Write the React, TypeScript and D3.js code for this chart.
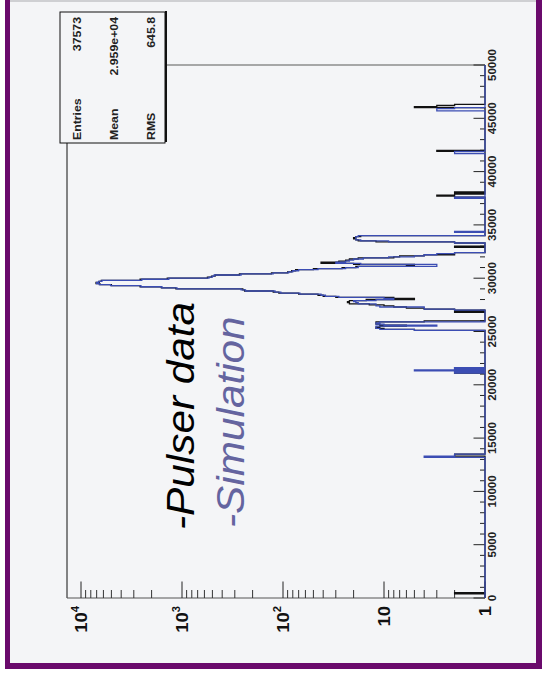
import React from 'react';
import * as d3 from 'd3';

// Histogram binning along the signal axis
const xDomain: [number, number] = [0, 50000];
const binWidth = 100;
// Log count axis: lower edge at 1, upper edge a little above 10^4
const countDomain: [number, number] = [1, 13760];

// Pulser data: lower bin edge -> entries
const pulserBins = [
  400, 13300, 13400, 21100, 21300, 21500,
  25100, 25200, 25300, 25400, 25500, 25600, 25700, 25800, 25900,
  26800, 27000, 27100, 27200, 27300, 27400, 27500, 27600, 27700, 27800, 27900,
  28000, 28100, 28200, 28300, 28400, 28500, 28600, 28700, 28800, 28900,
  29000, 29100, 29200, 29300, 29400, 29500, 29600, 29700, 29800, 29900,
  30000, 30100, 30200, 30300, 30400, 30500, 30600, 30700, 30800, 30900,
  31000, 31100, 31200, 31300, 31400, 31500, 31600, 31700, 31800, 31900,
  32000, 32100, 32200, 32300, 32900, 33300, 33400, 33500, 33600, 33700, 33800, 33900,
  37600, 37700, 37800, 38000, 41900, 46000, 46100, 46200,
];
const pulserCounts = [
  2, 2, 2, 2, 2, 2,
  5, 10, 12, 11, 6, 11, 12, 12, 4,
  2, 2, 4, 6, 8, 10, 14, 22, 23, 22, 15,
  5, 8, 30, 40, 45, 70, 110, 125, 240, 250,
  1150, 1600, 2600, 5000, 6500, 7100, 6600, 6300, 2600, 1400,
  560, 510, 470, 270, 130, 90, 82, 75, 50, 26,
  19, 6, 5, 20, 42, 28, 24, 22, 18, 8,
  7, 4, 2, 2, 2, 2, 12, 18, 19, 20, 19, 17,
  2, 3, 2, 2, 3, 5, 3, 2,
];

// Simulation: lower bin edge -> entries
const simBins = [
  13200, 13300, 13400, 21100, 21300, 21500,
  25100, 25200, 25300, 25400, 25500, 25600, 25700, 25800,
  26900, 27000, 27100, 27200, 27300, 27400, 27500, 27600, 27700, 27800, 27900,
  28000, 28100, 28200, 28300, 28400, 28500, 28600, 28700, 28800, 28900,
  29000, 29100, 29200, 29300, 29400, 29500, 29600, 29700, 29800, 29900,
  30000, 30100, 30200, 30300, 30400, 30500, 30600, 30700, 30800, 30900,
  31000, 31100, 31200, 31300, 31400, 31500, 31600, 31700, 31800, 31900,
  32000, 32100, 32200, 32300, 33300, 33400, 33500, 33600, 33700, 33800, 33900,
  34300, 37500, 41700, 41800, 45700, 45800, 45900,
];
const simCounts = [
  4, 2, 2, 2, 5, 2,
  5, 11, 12, 12, 3, 10, 12, 11,
  1, 2, 4, 4, 11, 12, 12, 18, 19, 20, 12,
  8, 10, 28, 38, 42, 68, 105, 120, 235, 260,
  1120, 1580, 2550, 5100, 6600, 7000, 6700, 6200, 2500, 1350,
  540, 500, 480, 260, 125, 88, 80, 70, 45, 24,
  18, 3, 3, 17, 30, 24, 22, 20, 16, 9,
  5, 4, 3, 2, 2, 9, 17, 19, 19, 19, 18,
  2, 2, 2, 2, 3, 3, 2,
];

const xTickLabels = ['0', '5000', '10000', '15000', '20000', '25000', '30000', '35000', '40000', '45000', '50000'];
const yTickValues = [1, 10, 100, 1000, 10000];

const statsLabels = ['Entries', 'Mean', 'RMS'];
const statsValues = ['37573', '2.959e+04', '645.8'];

const legendTexts = ['-Pulser data', '-Simulation'];

const FONT = '"Liberation Sans", Arial, Helvetica, sans-serif';

export default function App() {
  const W = 542;
  const H = 685;
  // frame in unrotated coordinates
  const plotW = 533;
  const plotH = 418;
  const originX = 67;
  const originY = 598;
  const stretch = 1.12;

  const x = d3.scaleLinear().domain(xDomain).range([0, plotW]);
  const y = d3.scaleLog().domain(countDomain).range([plotH, 0]);
  const nBins = Math.round((xDomain[1] - xDomain[0]) / binWidth);

  const toBins = (bins: number[], counts: number[]) => {
    const arr = new Array(nBins).fill(0);
    bins.forEach((b, i) => {
      arr[Math.round((b - xDomain[0]) / binWidth)] = counts[i];
    });
    return arr;
  };

  const stepPath = (arr: number[]) => {
    const pts: [number, number][] = arr.map((c, i) => [xDomain[0] + i * binWidth, c]);
    pts.push([xDomain[1], arr[nBins - 1]]);
    const line = d3
      .line<[number, number]>()
      .x((d) => x(d[0]))
      .y((d) => y(Math.max(1, d[1])))
      .curve(d3.curveStepAfter);
    return line([[xDomain[0], 1], ...pts, [xDomain[1], 1]]) || '';
  };

  const pulserPath = stepPath(toBins(pulserBins, pulserCounts));
  const simPath = stepPath(toBins(simBins, simCounts));

  const xMinor = d3.range(xDomain[0], xDomain[1] + 1, 1000);
  const yMinor: number[] = [];
  yTickValues.slice(0, -1).forEach((d) => {
    for (let k = 2; k <= 9; k++) yMinor.push(d * k);
  });

  const st = (u: number, w: number) => `translate(${u},${w}) scale(${stretch},1)`;

  return (
    <svg width={W} height={H} style={{ position: 'absolute', left: 0, top: 0 }} fontFamily={FONT}>
      {/* slide border and background */}
      <rect x={5} y={-10} width={W} height={679} fill="#6a0a6c" />
      <rect x={10} y={-10} width={526} height={673} fill="#f4f5f7" />
      <rect x={10} y={0} width={526} height={2} fill="#cfd0d3" />

      <g transform={`translate(${originX},${originY}) rotate(-90)`}>
        {/* frame */}
        <line x1={0} y1={0} x2={plotW} y2={0} stroke="#111" strokeWidth={1} />
        <line x1={plotW} y1={0} x2={plotW} y2={plotH} stroke="#8c8c8c" strokeWidth={1.5} />
        <line x1={0} y1={0} x2={0} y2={plotH} stroke="#555" strokeWidth={1} />

        {/* x axis ticks */}
        {xMinor.map((v) => {
          const major = v % 5000 === 0;
          return (
            <line key={`xt${v}`} x1={x(v)} x2={x(v)} y1={plotH} y2={plotH - (major ? 11.5 : 5)} stroke="#222" strokeWidth={1} />
          );
        })}
        {xTickLabels.map((t) => (
          <text key={`xl${t}`} transform={st(x(+t), plotH + 11)} textAnchor="middle" fontSize={10.3} fontWeight="bold" fill="#222">
            {t}
          </text>
        ))}

        {/* log axis ticks */}
        {yTickValues.map((v) => (
          <line key={`ym${v}`} x1={0} x2={16.5} y1={y(v)} y2={y(v)} stroke="#222" strokeWidth={1} />
        ))}
        {yMinor.map((v) => (
          <line key={`yn${v}`} x1={0} x2={8} y1={y(v)} y2={y(v)} stroke="#333" strokeWidth={1} />
        ))}
        {yTickValues.map((v) => {
          const e = Math.round(Math.log10(v));
          return (
            <text key={`yl${v}`} transform={st(-8, y(v) + 6)} textAnchor="end" fontSize={16.5} fontWeight="bold" fill="#111">
              {v === 1 ? '1' : '10'}
              {e >= 2 && (
                <tspan fontSize={10} dy={-8}>
                  {e}
                </tspan>
              )}
            </text>
          );
        })}

        {/* histograms */}
        <path d={pulserPath} fill="none" stroke="#111" strokeWidth={1.3} />
        <path d={simPath} fill="none" stroke="#3b4db3" strokeWidth={1.3} />

        {/* statistics box */}
        <rect x={455} y={-7} width={131} height={105} fill="#f4f5f7" stroke="#111" strokeWidth={1} />
        <line x1={456} x2={587} y1={99} y2={99} stroke="#111" strokeWidth={2} />
        {statsLabels.map((l, i) => (
          <g key={l}>
            <text transform={st(458, 14 + i * 37)} fontSize={11} fontWeight="bold" fill="#222">
              {l}
            </text>
            <text transform={st(581, 14 + i * 37)} fontSize={11} fontWeight="bold" textAnchor="end" fill="#222">
              {statsValues[i]}
            </text>
          </g>
        ))}

        {/* legend annotations */}
        <text transform={`translate(68,127) scale(1.085,1)`} fontSize={39} fontStyle="italic" fill="#000">
          {legendTexts[0]}
        </text>
        <text transform={`translate(70,177) scale(1.085,1)`} fontSize={39} fontStyle="italic" fill="#64649f">
          {legendTexts[1]}
        </text>
      </g>
    </svg>
  );
}
